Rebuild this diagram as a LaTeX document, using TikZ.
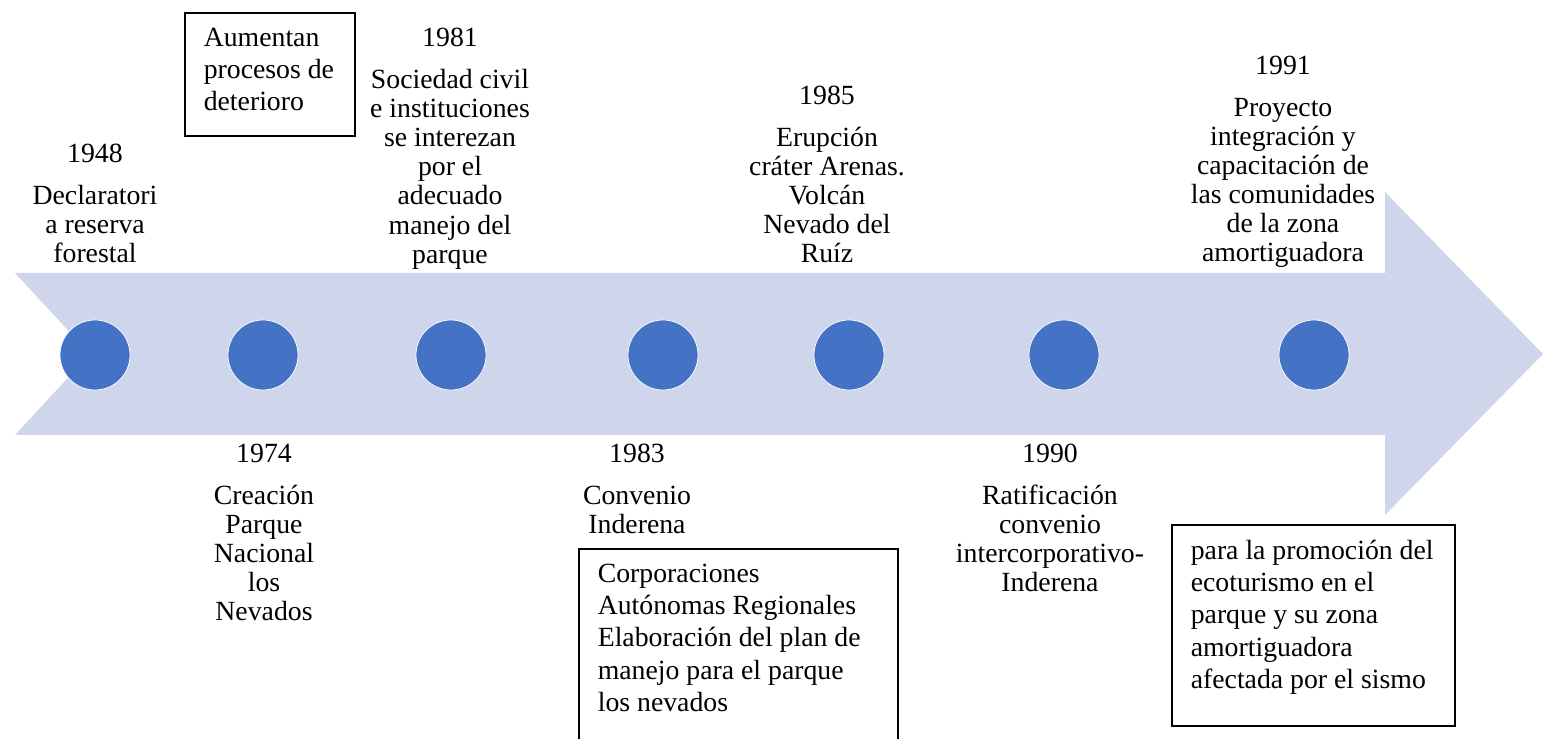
\documentclass[tikz,border=0pt]{standalone}
\usepackage{fontspec}
\setmainfont{Liberation Serif}

\definecolor{bandblue}{HTML}{CFD5EA}
\definecolor{dotblue}{HTML}{4472C4}
\newcommand{\evfont}{\fontsize{15.8}{16.6}\selectfont}
\newcommand{\boxfont}{\fontsize{15.8}{18.4}\selectfont}
\newcommand{\notetext}[3]{\begin{minipage}[t][#2][t]{#1}\raggedright\boxfont #3\end{minipage}}

\begin{document}
\begin{tikzpicture}[x=0.02cm, y=-0.02cm]
  \tikzstyle{dot}=[circle,fill=dotblue,draw=white,line width=0.4pt,minimum size=1.4cm,inner sep=0pt]
  \tikzstyle{event}=[align=center,inner sep=0pt,font=\evfont,anchor=north]
  \tikzstyle{note}=[draw=black,line width=0.9pt,inner xsep=0.38cm,inner ysep=0.3cm,anchor=north west]

  \useasboundingbox (0,0) rectangle (1543,739);
  \fill[bandblue] (15,273) -- (1385,273) -- (1385,192) -- (1543,354) -- (1385,515)
    -- (1385,435) -- (15,435) -- (90,354) -- cycle;

  \node[dot] (p1948) at (95,355) {};
  \node[dot] (p1974) at (263,355) {};
  \node[dot] (p1981) at (451,355) {};
  \node[dot] (p1983) at (663,355) {};
  \node[dot] (p1985) at (849,355) {};
  \node[dot] (p1990) at (1064,355) {};
  \node[dot] (p1991) at (1314,355) {};

  \node[event] (e1948) at (95,143.6) {1948\\[7.2pt]Declaratori\\a reserva\\forestal};
  \node[event] (e1981) at (450,27.6) {1981\\[7.2pt]Sociedad civil\\e instituciones\\se interezan\\por el\\adecuado\\manejo del\\parque};
  \node[event] (e1985) at (827,85.6) {1985\\[7.2pt]Erupción\\cráter Arenas.\\Volcán\\Nevado del\\Ruíz};
  \node[event] (e1991) at (1283,55.6) {1991\\[7.2pt]Proyecto\\integración y\\capacitación de\\las comunidades\\de la zona\\amortiguadora};

  \node[event] (e1974) at (264,443.6) {1974\\[7.2pt]Creación\\Parque\\Nacional\\los\\Nevados};
  \node[event] (e1983) at (637,443.6) {1983\\[7.2pt]Convenio\\Inderena};
  \node[event] (e1990) at (1050,443.6) {1990\\[7.2pt]Ratificación\\convenio\\intercorporativo-\\Inderena};

  \node[note] (n1) at (184,12) {\notetext{2.64cm}{1.86cm}{Aumentan\\procesos de\\deterioro}};
  \node[note] (n2) at (578,548) {\notetext{5.62cm}{4.24cm}{Corporaciones\\Autónomas Regionales\\Elaboración del plan de\\manejo para el parque\\los nevados}};
  \node[note] (n3) at (1171,524) {\notetext{4.9cm}{3.42cm}{para la promoción del\\ecoturismo en el\\parque y su zona\\amortiguadora\\afectada por el sismo}};
\end{tikzpicture}
\end{document}
